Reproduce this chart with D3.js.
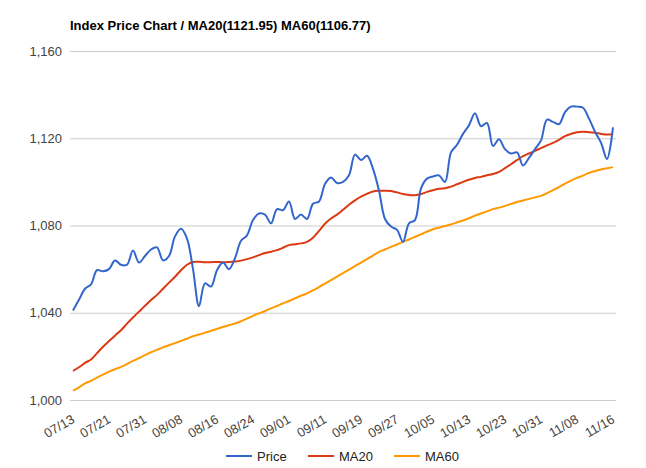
<!DOCTYPE html>
<html><head><meta charset="utf-8">
<script src="https://cdn.jsdelivr.net/npm/d3@7"></script>
<style>
body{margin:0;background:#fff;}
text{font-family:Arial,"Liberation Sans",sans-serif;}
</style></head>
<body><svg id="c" width="646" height="468"></svg>
<script>
const dates = ["07/13","07/14","07/17","07/18","07/19","07/20","07/21","07/24","07/25","07/26","07/27","07/28","07/31",
"08/01","08/02","08/03","08/04","08/07","08/08","08/09","08/10","08/11","08/14","08/15","08/16","08/17","08/18","08/21","08/22","08/23","08/24","08/25","08/28","08/29","08/30","08/31",
"09/01","09/04","09/05","09/06","09/07","09/08","09/11","09/12","09/13","09/14","09/15","09/18","09/19","09/20","09/21","09/22","09/25","09/26","09/27","09/28","09/29",
"10/02","10/03","10/04","10/05","10/06","10/09","10/10","10/11","10/12","10/13","10/16","10/17","10/18","10/19","10/20","10/23","10/24","10/25","10/26","10/27","10/30","10/31",
"11/01","11/02","11/03","11/06","11/07","11/08","11/09","11/10","11/13","11/14","11/15","11/16"];
const tickLabels = ["07/13","07/21","07/31","08/08","08/16","08/24","09/01","09/11","09/19","09/27","10/05","10/13","10/23","10/31","11/08","11/16"];
const yTicks = [1000,1040,1080,1120,1160];
const price = [1041,1046,1051,1053,1059.5,1059,1060,1064,1062,1062,1068.5,1063,1066,1069,1070,1064,1066,1075,1078.5,1074,
1060,1043,1053.5,1052,1059.5,1063,1060,1065,1073,1075.5,1082.5,1085.5,1085,1081,1087.5,1087,1091,1083,1085,1083,
1090,1091,1099,1102,1099.5,1100,1103,1112.5,1110,1112,1106,1096,1083,1079.5,1078,1072.5,1081,1082.5,1097,1101.5,
1102.5,1103,1100,1113.5,1117,1122,1126,1131.5,1125.5,1127,1116.5,1119.5,1115,1113,1113.5,1107.5,1111,1115,1119,1128.5,
1127.5,1126.5,1132,1134.5,1134.5,1134,1129,1123,1118,1110.5,1125];
const ma20 = [1013.3,1015,1017,1018.6,1021.5,1024.4,1027,1029.5,1032,1035,1037.8,1040.5,1043.2,1045.8,1048.2,1051,1053.8,1056.5,1059.5,1062,
1063.3,1063.4,1063.1,1063.2,1063.3,1063.2,1063.3,1063.5,1063.9,1064.6,1065.4,1066.4,1067.4,1068,1068.7,1069.8,1071,1071.4,1071.8,1072.5,
1074.4,1077.5,1080.8,1083.2,1085,1087.2,1089.5,1091.5,1093.2,1094.5,1095.6,1095.9,1095.9,1095.8,1095.2,1094.4,1094,1093.9,1094.4,1095.4,
1096.2,1096.8,1097.1,1097.8,1098.9,1100,1101,1101.8,1102.3,1103,1103.6,1104.6,1106.3,1108.1,1110,1111.8,1113,1114.2,1115.5,1116.7,
1117.9,1119.3,1121,1122,1122.8,1123,1122.8,1122.5,1122,1121.7,1121.95];
const ma60 = [1004.3,1005.8,1007.6,1008.8,1010.3,1011.6,1013,1014.1,1015.2,1016.5,1017.9,1019.2,1020.6,1021.9,1023,1024.1,1025.1,1026.1,1027.1,1028.1,
1029.2,1030,1030.9,1031.7,1032.6,1033.5,1034.3,1035.1,1036.1,1037.3,1038.6,1039.7,1040.8,1042,1043.1,1044.3,1045.4,1046.6,1047.8,1048.9,
1050.3,1051.8,1053.4,1055,1056.6,1058.2,1059.8,1061.4,1063,1064.6,1066.2,1067.9,1069,1070.2,1071.3,1072.5,1073.6,1074.8,1075.9,1077.2,
1078.3,1079,1079.8,1080.5,1081.4,1082.3,1083.3,1084.5,1085.5,1086.5,1087.5,1088.2,1089,1089.9,1090.8,1091.5,1092.2,1092.9,1093.6,1094.8,
1096.2,1097.6,1099.2,1100.6,1101.8,1102.9,1104.1,1105,1105.7,1106.2,1106.77];
const seriesNames = ["Price","MA20","MA60"];
const colors = ["#3366cc","#dc3912","#ff9900"];
const title = "Index Price Chart / MA20(1121.95) MA60(1106.77)";

const svg = d3.select("#c");
const L=70, R=616, T=51, B=400;
const x = d3.scalePoint().domain(dates).range([L,R]).padding(0.5);
const y = d3.scaleLinear().domain([1000,1160]).range([B,T]);

svg.append("text").attr("x",70).attr("y",30).attr("font-size",13).attr("font-weight","bold").attr("fill","#000").text(title);

const yAxis = d3.axisLeft(y).tickValues(yTicks).tickSize(-(R-L)).tickFormat(d3.format(","));
const gy = svg.append("g").attr("transform",`translate(${L},0)`).call(yAxis);
gy.select(".domain").remove();
gy.selectAll(".tick line").attr("stroke","#cccccc");
gy.selectAll(".tick text").attr("x",-8).attr("font-size",13).attr("fill","#444");

const xAxis = d3.axisBottom(x).tickValues(tickLabels).tickSize(0);
const gx = svg.append("g").attr("transform",`translate(0,${B})`).call(xAxis);
gx.select(".domain").remove();
gx.selectAll(".tick text").attr("font-size",13).attr("fill","#444")
  .attr("text-anchor","end").attr("dy","0").attr("y",0)
  .attr("transform","translate(2,22) rotate(-30)");

const all = [price, ma20, ma60];
const line = d3.line().x((d,i)=>x(dates[i])).y(d=>y(d)).curve(d3.curveCatmullRom.alpha(0.5));
[2,1,0].forEach(k=>{
  svg.append("path").datum(all[k]).attr("d",line).attr("fill","none")
    .attr("stroke",colors[k]).attr("stroke-width",2).attr("stroke-linejoin","round");
});

const legX = [226,308,394];
seriesNames.forEach((n,k)=>{
  svg.append("line").attr("x1",legX[k]).attr("x2",legX[k]+26).attr("y1",456).attr("y2",456)
    .attr("stroke",colors[k]).attr("stroke-width",2);
  svg.append("text").attr("x",legX[k]+31).attr("y",461).attr("font-size",13).attr("fill","#222").text(n);
});
</script></body></html>
